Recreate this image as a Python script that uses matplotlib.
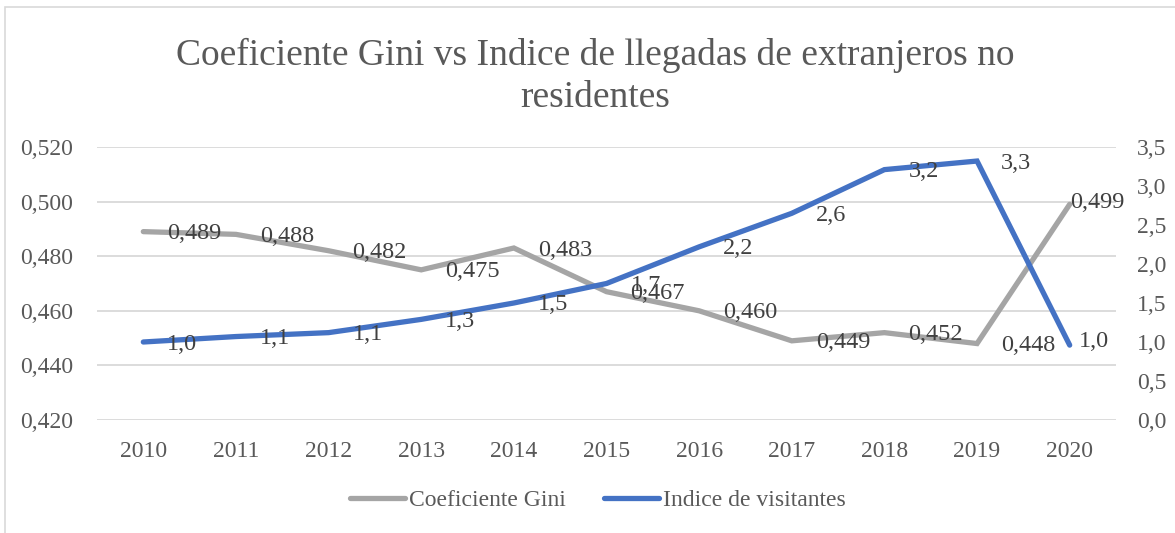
import matplotlib
matplotlib.use("Agg")
import matplotlib.pyplot as plt
from matplotlib.lines import Line2D
from matplotlib.patches import Rectangle

years = ["2010", "2011", "2012", "2013", "2014", "2015", "2016", "2017", "2018", "2019", "2020"]
gini = [0.489, 0.488, 0.482, 0.475, 0.483, 0.467, 0.460, 0.449, 0.452, 0.448, 0.499]
visitors = [1.0, 1.07, 1.12, 1.29, 1.50, 1.75, 2.22, 2.65, 3.21, 3.32, 0.96]
gini_labels = ["0,489", "0,488", "0,482", "0,475", "0,483", "0,467", "0,460", "0,449", "0,452", "0,448", "0,499"]
visitor_labels = ["1,0", "1,1", "1,1", "1,3", "1,5", "1,7", "2,2", "2,6", "3,2", "3,3", "1,0"]
left_ticks = [0.420, 0.440, 0.460, 0.480, 0.500, 0.520]
right_ticks = [0.0, 0.5, 1.0, 1.5, 2.0, 2.5, 3.0, 3.5]

# label offsets (pixels) - style only
gini_dx = [24, 24, 24, 24, 24, 24, 24, 24, 24, 24, 0]
gini_dy = [-2, -2, -2, -2, -2, -2, -2, -2, -2, -2, 2]
vis_dx = [24, 24, 24, 24, 24, 24, 24, 24, 24, 24, 9]
vis_dy = [-2, -2, -2, -2, -2, -2, -2, -2, -2, -2, 4]

TXT = "#595959"
GRAY = "#A5A5A5"
BLUE = "#4472C4"
GRID = "#D9D9D9"
plt.rcParams["font.family"] = ["Liberation Serif", "DejaVu Serif"]

W, H = 1175, 533
fig = plt.figure(figsize=(W / 100, H / 100), dpi=100)
fig.patch.set_facecolor("white")

# chart frame (left and top edges visible)
fig.add_artist(Rectangle((5 / W, -0.1), 1.2, 1 - 7 / H + 0.1, transform=fig.transFigure,
                         fill=False, edgecolor=GRID, linewidth=1.2))

l, r, t, b = 97, 1116, 147, 420
ax = fig.add_axes([l / W, 1 - b / H, (r - l) / W, (b - t) / H])
ax2 = ax.twinx()

x = list(range(len(years)))
ax.set_xlim(-0.5, len(years) - 0.5)
ax.set_ylim(0.420, 0.520)
ax2.set_ylim(0.0, 3.5)

ax.set_yticks(left_ticks)
ax.set_yticklabels([f"{v:.3f}".replace(".", ",") for v in left_ticks])
ax2.set_yticks(right_ticks)
ax2.set_yticklabels([f"{v:.1f}".replace(".", ",") for v in right_ticks])
ax.set_xticks(x)
ax.set_xticklabels(years)

for a in (ax, ax2):
    for s in a.spines.values():
        s.set_visible(False)
    a.tick_params(length=0, labelsize=17, colors=TXT)
ax.tick_params(axis="y", pad=17)
ax2.tick_params(axis="y", pad=15)
ax.tick_params(axis="x", pad=15)
ax.grid(axis="y", color=GRID, linewidth=1.3)
ax.set_axisbelow(True)

ax.plot(x, gini, color=GRAY, linewidth=3.8, solid_capstyle="round", solid_joinstyle="miter", zorder=3)
ax2.plot(x, visitors, color=BLUE, linewidth=3.8, solid_capstyle="round", solid_joinstyle="miter", zorder=3)

for i in x:
    ax.annotate(gini_labels[i], (x[i], gini[i]), xytext=(gini_dx[i], gini_dy[i]),
                textcoords="offset pixels", ha="left", va="center", fontsize=17.5, color="#404040", zorder=5)
    ax2.annotate(visitor_labels[i], (x[i], visitors[i]), xytext=(vis_dx[i], vis_dy[i]),
                 textcoords="offset pixels", ha="left", va="center", fontsize=17.5, color="#404040", zorder=5)

fig.text(595 / W, 1 - 55 / H, "Coeficiente Gini vs Indice de llegadas de extranjeros no",
         ha="center", va="center", fontsize=27, color=TXT)
fig.text(595 / W, 1 - 98 / H, "residentes", ha="center", va="center", fontsize=27, color=TXT)

handles = [Line2D([], [], color=GRAY, linewidth=3.8, solid_capstyle="round"),
           Line2D([], [], color=BLUE, linewidth=3.8, solid_capstyle="round")]
fig.legend(handles, ["Coeficiente Gini", "Indice de visitantes"], loc="center",
           bbox_to_anchor=(598 / W, 1 - 500 / H), ncol=2, frameon=False, fontsize=17,
           handlelength=2.35, handletextpad=0.17, columnspacing=1.6, labelcolor=TXT)

fig.savefig("out.png", dpi=100, facecolor="white")
